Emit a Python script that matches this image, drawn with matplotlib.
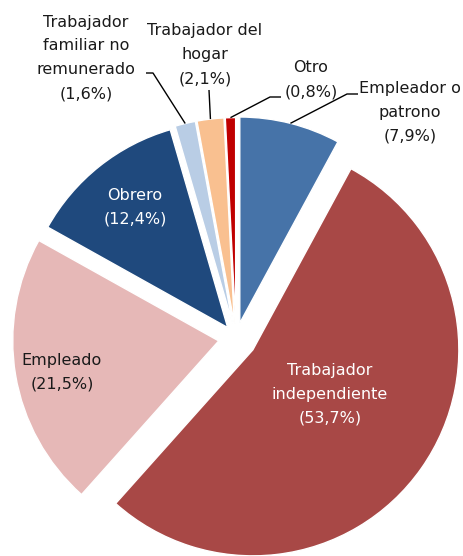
import matplotlib.pyplot as plt
import numpy as np

labels = ['Empleador o\npatrono', 'Trabajador\nindependiente', 'Empleado', 'Obrero',
          'Trabajador\nfamiliar no\nremunerado', 'Trabajador del\nhogar', 'Otro']
values = [7.9, 53.7, 21.5, 12.4, 1.6, 2.1, 0.8]
colors = ['#4673a8', '#a84846', '#e6b8b7', '#1f497d', '#b9cde5', '#f9c090', '#c00000']
explode = [0.075, 0.1, 0.085, 0.065, 0.07, 0.07, 0.07]

# pixel -> data helpers (pie centre at pixel 236,338, radius 206 px)
cx, cy, rad = 236, 338, 206
W, H = 464, 556


def px(x, y):
    return (x - cx) / rad, (cy - y) / rad


fig = plt.figure(figsize=(4.64, 5.56), dpi=100)
ax = fig.add_axes([0, 0, 1, 1])

wedges, _ = ax.pie(values, colors=colors, explode=explode, startangle=90,
                   counterclock=False, radius=1,
                   wedgeprops=dict(edgecolor='white', linewidth=1))
ax.set_aspect('auto')
ax.set_xlim(px(0, 0)[0], px(W, 0)[0])
ax.set_ylim(px(0, H)[1], px(0, 0)[1])
ax.axis('off')


def pct(v):
    return '(' + f'{v:.1f}'.replace('.', ',') + '%)'


font = dict(fontsize=11.5, family='DejaVu Sans', linespacing=1.75,
            ha='center', va='center')

# inside labels
inside = {1: ((330, 394), 'white'), 2: ((62, 372), '#1a1a1a'), 3: ((135, 207), 'white')}
for i, (pos, col) in inside.items():
    x, y = px(*pos)
    ax.text(x, y, labels[i] + '\n' + pct(values[i]), color=col, **font)

# outside labels with leader lines (knee points listed from label side)
outside = {
    0: ((410, 112), [(358, 94), (347, 94)]),
    4: ((86, 58), [(146, 73), (153, 73)]),
    5: ((205, 55), [(209, 90)]),
    6: ((311, 80), [(281, 97), (270, 97)]),
}
for i, (pos, knees) in outside.items():
    x, y = px(*pos)
    ax.text(x, y, labels[i] + '\n' + pct(values[i]), color='#1a1a1a', **font)
    w = wedges[i]
    mid = np.deg2rad((w.theta1 + w.theta2) / 2)
    r = 1 + explode[i]
    pts = [px(*k) for k in knees] + [(r * np.cos(mid), r * np.sin(mid))]
    ax.plot([p[0] for p in pts], [p[1] for p in pts], color='black', lw=1,
            solid_capstyle='butt')

fig.savefig('out.png', dpi=100)
